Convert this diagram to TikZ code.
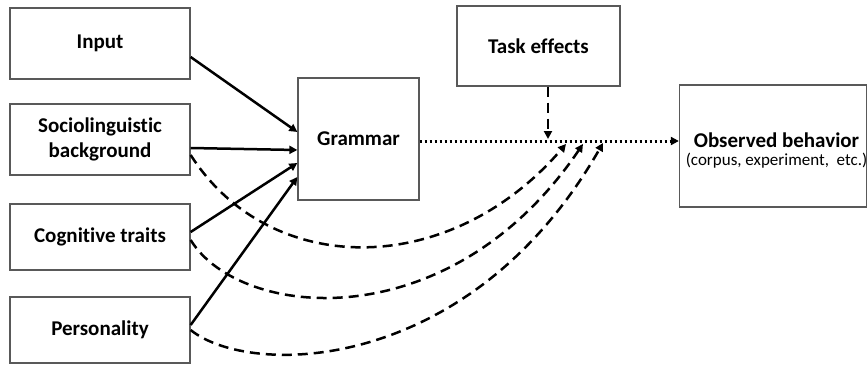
\documentclass[tikz,border=0pt]{standalone}
\usepackage{fontspec}
\setmainfont[RawFeature={-liga;-calt}]{Carlito}
\usetikzlibrary{arrows.meta}
\begin{document}
\begin{tikzpicture}[x=1pt,y=-1pt,
  box/.style={draw=black!65,line width=1.3pt,inner sep=0pt,align=center,
    font=\fontsize{21}{25}\selectfont\bfseries},
  tip/.style={-{Triangle[length=8pt,width=8pt]}},
  solidarr/.style={tip,line width=2.5pt},
  dasharr/.style={tip,line width=2.5pt,dash pattern=on 10pt off 6pt},
  dotarr/.style={tip,line width=3pt,dash pattern=on 2.6pt off 2.4pt}]
\useasboundingbox (0,0) rectangle (867,364);
\node[box,minimum width=180pt,minimum height=71pt] (input) at (100,43.5) {Input};
\node[box,minimum width=180pt,minimum height=71pt] (socio) at (100,139.5) {Sociolinguistic\\background};
\node[box,minimum width=180pt,minimum height=66pt] (cog) at (100,237) {Cognit\kern0pt ive traits};
\node[box,minimum width=180pt,minimum height=66pt] (pers) at (100,330) {Personality};
\node[box,minimum width=121pt,minimum height=122pt] (gram) at (358.5,139) {Grammar};
\node[box,minimum width=163pt,minimum height=80pt] (task) at (538.5,46) {Task effects};
\node[box,minimum width=187pt,minimum height=122pt] (obs) at (773,146) {};
\node[align=center,inner sep=0pt,font=\fontsize{21}{25}\selectfont\bfseries] (obslab) at (776.5,140) {Observed behavior};
\node[align=center,inner sep=0pt,font=\fontsize{17}{20}\selectfont] (obssub) at (776.5,161) {(corpus, experiment,\ \ etc.)};
% solid arrows
\draw[solidarr] (input.east |- 0,57) -- (gram.west |- 0,132);
\draw[solidarr] (socio.east |- 0,148) -- (gram.west |- 0,150);
\draw[solidarr] (cog.east |- 0,232) -- (gram.west |- 0,163);
\draw[solidarr] (pers.east |- 0,325) -- (gram.west |- 0,177);
% dotted grammar -> observed
\draw[dotarr] (gram.east |- 0,141) -- (obs.west |- 0,141);
% task effects
\coordinate (taskend) at (548,139);
\draw[dasharr] (task.south -| taskend) -- (taskend);
% dashed curves
\coordinate (e1) at (566,144);
\coordinate (e2) at (583,144);
\coordinate (e3) at (603,143);
\draw[dasharr] (socio.east |- 0,155) .. controls (270,279) and (450,279) .. (e1);
\draw[dasharr] (cog.east |- 0,240) .. controls (240,320) and (450,340) .. (e2);
\draw[dasharr] (pers.east |- 0,330) .. controls (250,378) and (470,375) .. (e3);
\end{tikzpicture}
\end{document}
